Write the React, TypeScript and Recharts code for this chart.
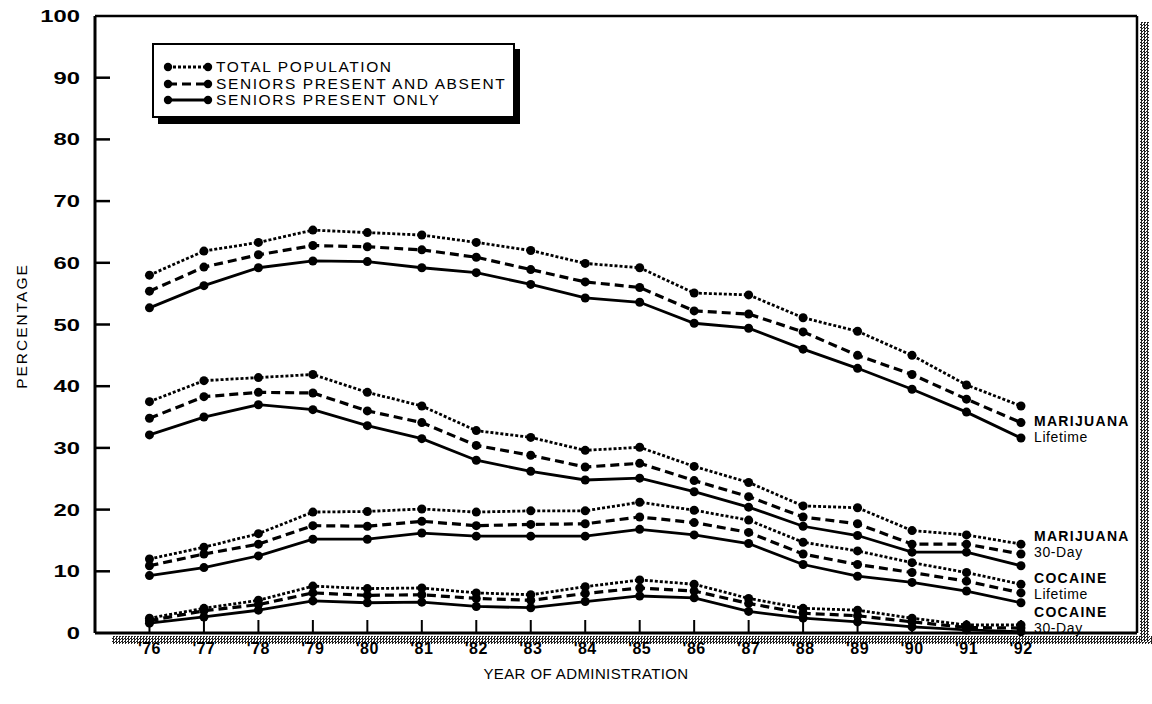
import { LineChart, Line, XAxis, YAxis, ReferenceLine } from 'recharts';

const years = [76, 77, 78, 79, 80, 81, 82, 83, 84, 85, 86, 87, 88, 89, 90, 91, 92];
const yTicks = [0, 10, 20, 30, 40, 50, 60, 70, 80, 90, 100];

// marijuana lifetime
const mjLifeTotal = [58.0, 61.9, 63.3, 65.3, 64.9, 64.5, 63.3, 62.0, 59.9, 59.2, 55.1, 54.8, 51.1, 48.9, 45.0, 40.2, 36.8];
const mjLifeAbsent = [55.4, 59.3, 61.3, 62.8, 62.6, 62.1, 60.9, 58.9, 56.9, 56.0, 52.2, 51.7, 48.8, 45.0, 41.9, 37.9, 34.1];
const mjLifePresent = [52.7, 56.3, 59.2, 60.3, 60.2, 59.2, 58.4, 56.5, 54.3, 53.6, 50.2, 49.4, 46.0, 42.9, 39.5, 35.8, 31.6];

// marijuana 30-day
const mj30Total = [37.5, 40.9, 41.4, 41.9, 39.0, 36.8, 32.8, 31.7, 29.6, 30.1, 27.0, 24.4, 20.6, 20.3, 16.6, 15.9, 14.4];
const mj30Absent = [34.8, 38.3, 39.0, 38.9, 36.0, 34.1, 30.4, 28.8, 26.9, 27.5, 24.7, 22.1, 18.8, 17.7, 14.4, 14.4, 12.8];
const mj30Present = [32.1, 35.0, 37.0, 36.2, 33.6, 31.5, 28.0, 26.2, 24.8, 25.1, 22.9, 20.4, 17.3, 15.8, 13.1, 13.1, 10.9];

// cocaine lifetime
const cocLifeTotal = [12.0, 13.9, 16.1, 19.6, 19.7, 20.1, 19.6, 19.8, 19.8, 21.2, 19.9, 18.3, 14.7, 13.3, 11.4, 9.8, 7.9];
const cocLifeAbsent = [10.9, 12.8, 14.4, 17.4, 17.3, 18.1, 17.4, 17.6, 17.7, 18.8, 17.9, 16.3, 12.8, 11.1, 9.8, 8.4, 6.5];
const cocLifePresent = [9.3, 10.6, 12.5, 15.2, 15.2, 16.2, 15.7, 15.7, 15.7, 16.8, 15.9, 14.5, 11.1, 9.2, 8.2, 6.8, 4.9];

// cocaine 30-day
const coc30Total = [2.4, 4.0, 5.3, 7.6, 7.2, 7.3, 6.5, 6.2, 7.5, 8.6, 7.9, 5.6, 4.0, 3.7, 2.4, 1.3, 1.3];
const coc30Absent = [2.0, 3.6, 4.6, 6.5, 6.1, 6.2, 5.6, 5.3, 6.4, 7.3, 6.8, 4.8, 3.2, 2.8, 1.8, 0.9, 0.8];
const coc30Present = [1.6, 2.6, 3.7, 5.2, 4.9, 5.0, 4.3, 4.1, 5.1, 6.0, 5.7, 3.5, 2.4, 1.8, 1.0, 0.5, 0.2];

const seriesList = [
  { key: 'mjLifeTotal', values: mjLifeTotal, kind: 'total' },
  { key: 'mjLifeAbsent', values: mjLifeAbsent, kind: 'absent' },
  { key: 'mjLifePresent', values: mjLifePresent, kind: 'present' },
  { key: 'mj30Total', values: mj30Total, kind: 'total' },
  { key: 'mj30Absent', values: mj30Absent, kind: 'absent' },
  { key: 'mj30Present', values: mj30Present, kind: 'present' },
  { key: 'cocLifeTotal', values: cocLifeTotal, kind: 'total' },
  { key: 'cocLifeAbsent', values: cocLifeAbsent, kind: 'absent' },
  { key: 'cocLifePresent', values: cocLifePresent, kind: 'present' },
  { key: 'coc30Total', values: coc30Total, kind: 'total' },
  { key: 'coc30Absent', values: coc30Absent, kind: 'absent' },
  { key: 'coc30Present', values: coc30Present, kind: 'present' },
];

const legendItems = [
  { label: 'TOTAL POPULATION', kind: 'total' },
  { label: 'SENIORS PRESENT AND ABSENT', kind: 'absent' },
  { label: 'SENIORS PRESENT ONLY', kind: 'present' },
];

const sideLabels = [
  { top: 'MARIJUANA', bottom: 'Lifetime', y: 413 },
  { top: 'MARIJUANA', bottom: '30-Day', y: 528 },
  { top: 'COCAINE', bottom: 'Lifetime', y: 570 },
  { top: 'COCAINE', bottom: '30-Day', y: 604 },
];

const data = years.map((yr, i) => {
  const row: Record<string, number> = { year: yr };
  seriesList.forEach((s) => { row[s.key] = s.values[i]; });
  return row;
});

const STYLE: Record<string, { dash?: string; width: number }> = {
  total: { dash: '3 2', width: 2.8 },
  absent: { dash: '9 5', width: 3.2 },
  present: { width: 2.8 },
};

const font = "'Liberation Sans', Arial, Helvetica, sans-serif";
const halftone = 'repeating-conic-gradient(#222 0 25%, #fff 0 50%) 0 0 / 3px 3px';

function YTick({ x, y, payload }: any) {
  return (
    <g>
      {payload.value !== 0 && payload.value !== 100 && (
        <line x1={x} x2={x + 15} y1={y} y2={y} stroke="#000" strokeWidth={2.5} />
      )}
      <text
        transform={`translate(${x - 15},${y + 6}) scale(1.4,1)`}
        textAnchor="end" fontFamily={font} fontSize={17} fontWeight={700} fill="#000"
      >
        {payload.value}
      </text>
    </g>
  );
}

function XTick({ x, y, payload }: any) {
  return (
    <g>
      <line x1={x} x2={x} y1={y} y2={y - 13} stroke="#000" strokeWidth={2} />
      <text x={x} y={y + 21} textAnchor="middle" fontFamily={font} fontSize={16} fontWeight={700} letterSpacing={0.5} fill="#000">
        {`'${payload.value}`}
      </text>
    </g>
  );
}

function Sample({ kind }: { kind: string }) {
  const st = STYLE[kind];
  return (
    <svg width={50} height={12} style={{ display: 'block' }}>
      <line x1={5} x2={45} y1={6} y2={6} stroke="#000" strokeWidth={st.width} strokeDasharray={st.dash} />
      <circle cx={5} cy={6} r={4.2} fill="#000" />
      <circle cx={45} cy={6} r={4.2} fill="#000" />
    </svg>
  );
}

export default function App() {
  return (
    <div style={{ position: 'absolute', left: 0, top: 0, width: 1152, height: 704, background: '#fff', fontFamily: font }}>
      {/* halftone drop shadows of the frame */}
      <div style={{ position: 'absolute', left: 112, top: 636, width: 1040, height: 8, background: halftone }} />
      <div style={{ position: 'absolute', left: 1140, top: 22, width: 9, height: 620, background: halftone }} />

      <div style={{ position: 'absolute', left: 0, top: 0 }}>
        <LineChart width={1152} height={704} data={data} margin={{ top: 16, right: 15, bottom: 0, left: 0 }}>
          <XAxis
            dataKey="year"
            type="number"
            domain={[75, 94.13]}
            ticks={years}
            allowDataOverflow
            height={71}
            tickSize={0}
            tickMargin={0}
            tickLine={false}
            axisLine={{ stroke: '#000', strokeWidth: 3 }}
            tick={<XTick />}
            interval={0}
          />
          <YAxis
            type="number"
            domain={[0, 100]}
            ticks={yTicks}
            width={95}
            tickSize={0}
            tickMargin={0}
            tickLine={false}
            axisLine={{ stroke: '#000', strokeWidth: 3 }}
            tick={<YTick />}
            interval={0}
          />
          <ReferenceLine y={100} stroke="#000" strokeWidth={2.5} />
          <ReferenceLine x={94.13} stroke="#000" strokeWidth={2.5} />
          {seriesList.map((s) => {
            const st = STYLE[s.kind];
            return (
              <Line
                key={s.key}
                dataKey={s.key}
                type="linear"
                stroke="#000"
                strokeWidth={st.width}
                strokeDasharray={st.dash}
                dot={{ r: 4.5, fill: '#000', stroke: '#000', strokeWidth: 0, strokeDasharray: '0' }}
                activeDot={false}
                isAnimationActive={false}
              />
            );
          })}
        </LineChart>
      </div>

      {/* legend box */}
      <div style={{ position: 'absolute', left: 158, top: 49, width: 362, height: 75, background: '#000' }} />
      <div
        style={{
          position: 'absolute', left: 152, top: 43, width: 363, height: 75, background: '#fff',
          border: '2px solid #000', boxSizing: 'border-box', padding: '14px 0 0 9px',
        }}
      >
        {legendItems.map((it) => (
          <div key={it.label} style={{ display: 'flex', alignItems: 'center', height: 16.5 }}>
            <Sample kind={it.kind} />
            <span style={{ fontSize: 15.5, lineHeight: '16px', marginLeft: 3, color: '#000', letterSpacing: 1.6 }}>{it.label}</span>
          </div>
        ))}
      </div>

      {/* y axis title */}
      <div
        style={{
          position: 'absolute', left: 22, top: 326, transform: 'translate(-50%, -50%) rotate(-90deg)',
          fontSize: 15.5, letterSpacing: 2, whiteSpace: 'nowrap', color: '#000',
        }}
      >
        PERCENTAGE
      </div>

      {/* x axis title */}
      <div style={{ position: 'absolute', left: 586, top: 673, transform: 'translate(-50%, -50%)', fontSize: 15, letterSpacing: 0.4, whiteSpace: 'nowrap', color: '#000' }}>
        YEAR OF ADMINISTRATION
      </div>

      {/* series group labels */}
      {sideLabels.map((l, i) => (
        <div key={i} style={{ position: 'absolute', left: 1034, top: l.y, lineHeight: '16px', color: '#000' }}>
          <div style={{ fontSize: 14, fontWeight: 700, letterSpacing: 1.3 }}>{l.top}</div>
          <div style={{ fontSize: 14, letterSpacing: 0.6 }}>{l.bottom}</div>
        </div>
      ))}
    </div>
  );
}
